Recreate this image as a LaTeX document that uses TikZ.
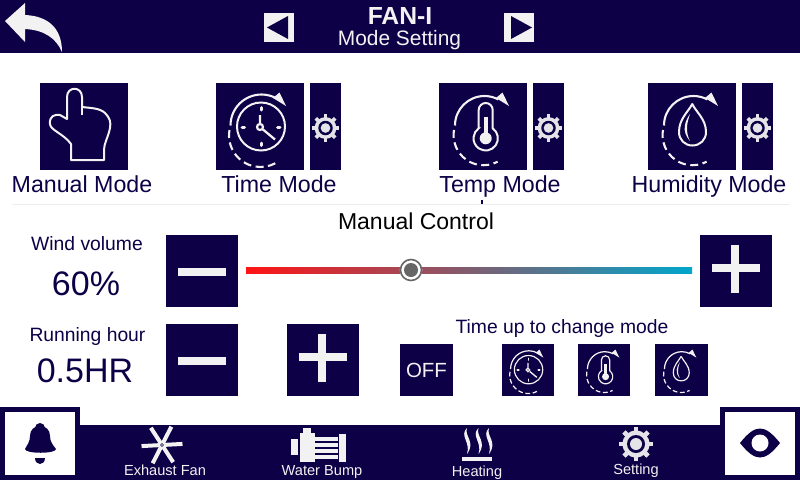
\documentclass[tikz,border=0pt]{standalone}
\usepackage{fontspec}
\setmainfont{Liberation Sans}
\definecolor{navy}{HTML}{0D0047}
\definecolor{lite}{HTML}{F2F2F2}
\definecolor{gearc}{HTML}{E4E4E8}
\definecolor{slidea}{HTML}{FF1414}
\definecolor{slideb}{HTML}{00A6CC}
\newcommand{\fs}[1]{\fontsize{#1}{#1}\selectfont}
% all icons are drawn in a box whose top-left is (#1,#2); #3 = scale (1 = 88px box)
\newcommand{\cyclearc}[4]{%
  \begin{scope}[shift={(#1,#2)},scale=#3]
    \pgfmathsetmacro\don{8*#3}\pgfmathsetmacro\doff{4.5*#3}
    \draw[lite,line width=2.1pt*#3] (45.5-#4,42.5) arc[start angle=-180,end angle=-62,radius=#4];
    \fill[lite] (70,23) -- (57,15) -- (63.5,9.5) -- cycle;
    \draw[lite,line width=2.1pt*#3,dash pattern=on \don pt off \doff pt] (44.5-#4,47) arc[start angle=-170,end angle=-298,radius=#4+0.5];
  \end{scope}}
\newcommand{\clockicon}[3]{%
  \cyclearc{#1}{#2}{#3}{31}
  \begin{scope}[shift={(#1,#2)},scale=#3]
    \draw[lite,line width=2pt*#3] (45,43.5) circle[radius=24];
    \draw[lite,line width=3pt*#3,line cap=round] (45,24.5)--(45,27) (45,60)--(45,62.5) (26,44)--(28.5,44) (61.5,44)--(64,44);
    \draw[lite,line width=2.3pt*#3] (44,42)--(44,32) (44,44)--(59,56.5);
    \fill[navy] (44,44) circle[radius=4];
    \draw[lite,line width=2.2pt*#3] (44,44) circle[radius=3];
  \end{scope}}
\newcommand{\thermoicon}[3]{%
  \cyclearc{#1}{#2}{#3}{29.5}
  \begin{scope}[shift={(#1,#2)},scale=#3]
    \draw[lite,line width=2pt*#3] (39.7,45.3) -- (39.7,27) arc[start angle=-180,end angle=0,radius=7] -- (53.7,45.3)
      arc[start angle=-55,end angle=235,radius=12.2] -- cycle;
    \draw[lite,line width=4pt*#3] (46.7,33.5) -- (46.7,52);
    \fill[lite] (46.7,55.3) circle[radius=6];
  \end{scope}}
\newcommand{\dropicon}[3]{%
  \cyclearc{#1}{#2}{#3}{29.5}
  \begin{scope}[shift={(#1,#2)},scale=#3]
    \draw[lite,line width=2pt*#3,line join=round] (44.3,21) .. controls (40,29) and (31,36) .. (31,49) .. controls (31,57) and (37,62.5) .. (44.3,62.5) .. controls (52,62.5) and (58,57) .. (58,49) .. controls (58,36) and (48,29) .. (44.3,21) -- cycle;
    \fill[lite] (42,31) .. controls (37,38) and (33,48) .. (42,58) .. controls (37,48) and (39,40) .. (42,31) -- cycle;
  \end{scope}}
\newcommand{\gearicon}[3]{% centre, outer radius
  \begin{scope}[shift={(#1,#2)},scale=#3/17]
    \foreach \a in {0,45,...,315} \draw[gearc,line width=4.6pt*#3/17] (0,0) -- (\a:17);
    \fill[gearc] (0,0) circle[radius=13.5];
    \fill[navy] (0,0) circle[radius=9];
    \fill[gearc] (0,0) circle[radius=6];
  \end{scope}}
\tikzset{
  navbox/.style={fill=navy,draw=none},
  navtxt/.style={text=navy,inner sep=0pt,anchor=base},
  bartxt/.style={text=lite,inner sep=0pt,anchor=base,font=\fs{14.6}},
  modetxt/.style={navtxt,font=\fs{23.2}},
  smalltxt/.style={navtxt,font=\fs{19.3}},
  bigtxt/.style={navtxt,font=\fs{34}},
}
\begin{document}
\begin{tikzpicture}[x=1pt,y=-1pt]
\useasboundingbox (0,0) rectangle (800,480);
\fill[white] (0,0) rectangle (800,480);
% top bar
\fill[navy] (0,0) rectangle (800,53);
\fill[lite] (5,21) -- (25,3) -- (25,15) .. controls (48,16) and (62,28) .. (62,52) .. controls (56,38) and (44,30) .. (25,29) -- (25,42) -- cycle;
\fill[lite] (264,13) rectangle (294,42);
\fill[navy] (267,27.5) -- (288,16) -- (288,39) -- cycle;
\fill[lite] (504,13) rectangle (534,42);
\fill[navy] (532,27.5) -- (511,16) -- (511,39) -- cycle;
\node[inner sep=0pt,anchor=base,text=lite,font=\bfseries\fs{24.7}] (title) at (400,24.5) {FAN-I};
\node[inner sep=0pt,anchor=base,text=lite,font=\fs{20.9}] (subtitle) at (399.5,45) {Mode Setting};
% mode buttons
\fill[navbox] (40,83) rectangle (128,170);
\fill[navbox] (216,83) rectangle (304,170);
\fill[navbox] (310,83) rectangle (341,170);
\fill[navbox] (439,83) rectangle (527,170);
\fill[navbox] (533,83) rectangle (564,170);
\fill[navbox] (648,83) rectangle (736,170);
\fill[navbox] (742,83) rectangle (773,170);
\draw[lite,line width=2pt,line join=round] (71,160) -- (71,144) .. controls (64,134) and (50,130) .. (50,124) .. controls (49,116) and (55,114) .. (60,115) -- (67,119) -- (67,97) .. controls (67,86) and (82,86) .. (82,97) -- (82,107) .. controls (90,108) and (100,108) .. (105,113) .. controls (110,118) and (111,122) .. (110,128) .. controls (108,138) and (104,143) .. (104,150) -- (104,160) -- cycle;
\draw[lite,line width=1.4pt] (82,107) -- (82,115);
\clockicon{216}{83}{1}
\thermoicon{439}{83}{1}
\dropicon{648}{83}{1}
\gearicon{325.5}{128}{13.7}
\gearicon{548.5}{128}{13.7}
\gearicon{757.5}{128}{13.7}
\node[modetxt] (lman) at (82,192.7) {Manual Mode};
\node[modetxt] (ltime) at (279,192.7) {Time Mode};
\node[modetxt] (ltemp) at (500,192.7) {Temp Mode};
\node[modetxt] (lhum) at (709,192.7) {Humidity Mode};
\draw[color=black!7,line width=0.8pt] (12,204.5) -- (790,204.5);
\fill[navy] (481,200) rectangle (482.5,204);
\node[inner sep=0pt,anchor=base,text=black,font=\fs{23}] (mc) at (416,229) {Manual Control};
% wind volume
\node[smalltxt] (wv) at (87,250.7) {Wind volume};
\node[bigtxt] (wvv) at (86,295) {60\%};
\fill[navbox] (166,235) rectangle (238,307);
\fill[lite] (178,267.7) rectangle (226,276.3);
\shade[left color=slidea,right color=slideb] (246,267) rectangle (692,273);
\fill[white] (411,270) circle[radius=11.3];
\draw[black!60,line width=1.6pt] (411,270) circle[radius=10.5];
\fill[black!60] (411,270) circle[radius=7];
\fill[navbox] (700,235) rectangle (772,307);
\fill[lite] (712,263.7) rectangle (760,272.3);
\fill[lite] (731,245) rectangle (739,293);
% running hour
\node[smalltxt] (rh) at (87.5,341.7) {Running hour};
\node[bigtxt] (rhv) at (85,382) {0.5HR};
\fill[navbox] (166,324) rectangle (238,396);
\fill[lite] (178,356.7) rectangle (226,365.3);
\fill[navbox] (287,324) rectangle (359,396);
\fill[lite] (299,352.7) rectangle (347,361.3);
\fill[lite] (318,334) rectangle (326,382);
\node[smalltxt] (tu) at (562,333) {Time up to change mode};
\fill[navbox] (400,344) rectangle (453,396);
\node[inner sep=0pt,anchor=base,text=lite,font=\fs{20.5}] (off) at (426.5,377.7) {OFF};
\fill[navbox] (502,344) rectangle (554,396);
\clockicon{502}{344}{0.59}
\fill[navbox] (578,344) rectangle (630,396);
\thermoicon{578}{344}{0.59}
\fill[navbox] (655,344) rectangle (708,396);
\dropicon{655}{344}{0.59}
% bottom bar
\fill[navy] (0,425) rectangle (800,480);
\fill[navy] (0,407) rectangle (80,480);
\fill[navy] (720,407) rectangle (800,480);
\fill[white] (5,412) rectangle (75,475);
\fill[white] (725,412) rectangle (795,475);
% bell
\fill[navy] (40,428) circle[radius=5];
\fill[navy] (25,449) .. controls (27,445) and (30,442) .. (30,436) .. controls (30,430) and (34,426) .. (40,426) .. controls (46,426) and (50,430) .. (50,436) .. controls (50,442) and (53,445) .. (56,449) .. controls (56,454) and (25,454) .. (25,449) -- cycle;
\fill[navy] (35,457.5) -- (45,457.5) .. controls (45,466) and (35,466) .. (35,457.5) -- cycle;
% eye
\fill[navy] (740,443) .. controls (748,433) and (754,428.5) .. (760,428.5) .. controls (766,428.5) and (772,433) .. (780,443) .. controls (772,453) and (766,457.5) .. (760,457.5) .. controls (754,457.5) and (748,453) .. (740,443) -- cycle;
\fill[white] (760,443) circle[radius=8.5];
% fan
\foreach \a in {-3,57,117,177,237,297}
  \draw[lite,line width=4pt] (162,445) -- ++(\a:20.5);
\fill[navy] (162,445) circle[radius=1.8];
\fill[lite] (162,445) circle[radius=0.8];
% pump
\fill[lite] (291,439) rectangle (298,455);
\fill[lite] (300,433) rectangle (315,462);
\fill[lite] (303,428) rectangle (311,433);
\fill[lite] (315,437) rectangle (338,441);
\fill[lite] (315,443) rectangle (338,447);
\fill[lite] (315,449) rectangle (338,453);
\fill[lite] (315,455) rectangle (338,459);
\fill[lite] (339,434) rectangle (346,462);
% heating
\foreach \x in {467,478.5,489}
  \fill[lite] (\x,428) .. controls (\x-8,436) and (\x+4,442) .. (\x,454) .. controls (\x+9,442) and (\x-3,436) .. (\x,428) -- cycle;
\fill[lite] (462,457) rectangle (492,461);
% setting gear
\gearicon{636}{444}{17}
\node[bartxt] (lfan) at (165,475) {Exhaust Fan};
\node[bartxt] (lpump) at (322,475) {Water Bump};
\node[bartxt] (lheat) at (477,476) {Heating};
\node[bartxt] (lset) at (636,474) {Setting};
\end{tikzpicture}
\end{document}
